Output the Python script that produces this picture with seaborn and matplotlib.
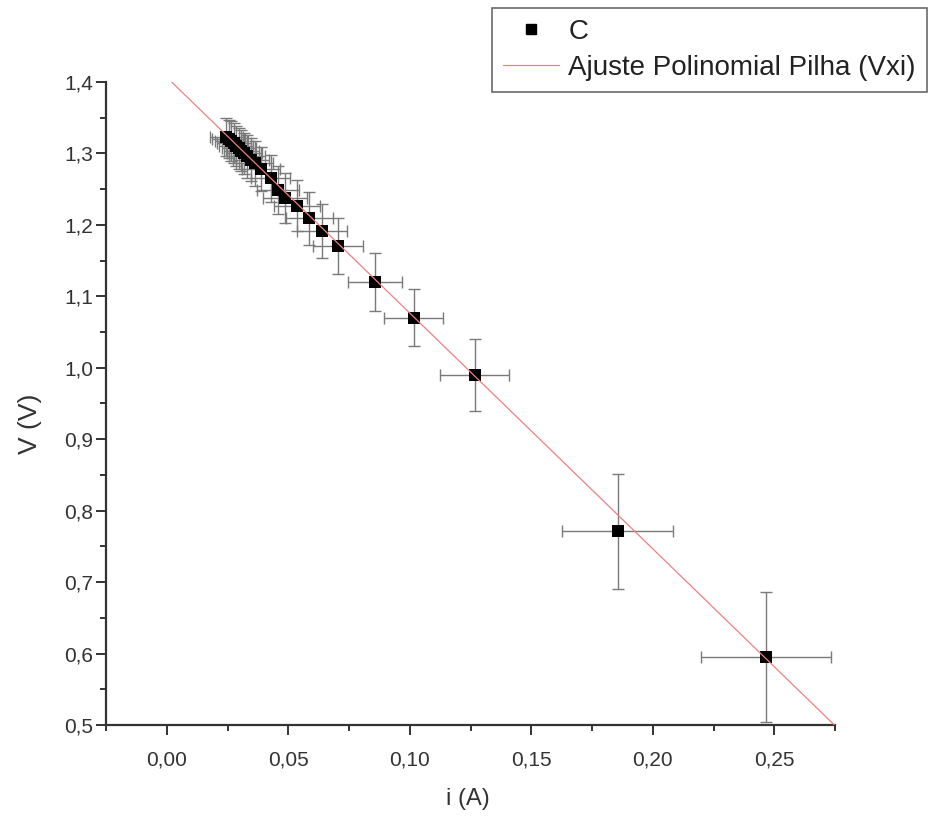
import matplotlib
matplotlib.use("Agg")
import matplotlib.pyplot as plt
import matplotlib.ticker as mticker
from matplotlib.lines import Line2D
import seaborn as sns
import numpy as np
import pandas as pd

# ---- data ----
current_A = [0.0245, 0.0256, 0.0266, 0.0276, 0.0286, 0.0296, 0.0307, 0.0319,
             0.0331, 0.0346, 0.0363, 0.0386, 0.0427, 0.0458, 0.0486, 0.0536,
             0.0587, 0.0637, 0.0705, 0.0856, 0.1016, 0.1267, 0.1856, 0.2465]
voltage_V = [1.323, 1.320, 1.317, 1.314, 1.311, 1.307, 1.304, 1.300,
             1.296, 1.291, 1.286, 1.278, 1.265, 1.249, 1.238, 1.227,
             1.209, 1.191, 1.170, 1.120, 1.070, 0.990, 0.771, 0.595]
current_err = [0.0068, 0.0068, 0.0069, 0.0069, 0.0070, 0.0070, 0.0071, 0.0072,
               0.0073, 0.0074, 0.0076, 0.0078, 0.0082, 0.0086, 0.0090, 0.0094,
               0.0098, 0.0103, 0.0103, 0.0112, 0.0121, 0.0142, 0.0228, 0.0267]
voltage_err = [0.027, 0.027, 0.028, 0.028, 0.028, 0.029, 0.029, 0.029,
               0.030, 0.030, 0.031, 0.031, 0.033, 0.034, 0.035, 0.036,
               0.037, 0.038, 0.039, 0.040, 0.040, 0.050, 0.080, 0.091]

fit_intercept = 1.4066
fit_slope = -3.30
fit_range = [0.0, 0.275]

series_label = "C"
fit_label = "Ajuste Polinomial Pilha (Vxi)"
x_label = "i (A)"
y_label = "V (V)"

df = pd.DataFrame({"i": current_A, "V": voltage_V,
                   "ierr": current_err, "verr": voltage_err})
fit_x = np.linspace(fit_range[0], fit_range[1], 50)
fit_df = pd.DataFrame({"i": fit_x, "V": fit_intercept + fit_slope * fit_x})

sns.set_theme(style="white")
plt.rcParams['font.family'] = ['Liberation Sans', 'DejaVu Sans']

fig = plt.figure(figsize=(9.32, 8.26), dpi=100)
ax = fig.add_axes([106/932, 1 - 725/826, (835 - 106)/932, (725 - 82)/826])

err_color = "#7a7a7a"
ax.errorbar(df["i"], df["V"], xerr=df["ierr"], yerr=df["verr"], fmt="none",
            ecolor=err_color, elinewidth=1.0, capsize=4, capthick=1.0, zorder=2)
sns.scatterplot(data=df, x="i", y="V", marker="s", s=65, color="black",
                edgecolor="black", linewidth=0, ax=ax, zorder=3, legend=False)
sns.lineplot(data=fit_df, x="i", y="V", color="#f08080", linewidth=0.9,
             ax=ax, zorder=4, legend=False)

ax.set_xlim(-0.025, 0.275)
ax.set_ylim(0.5, 1.4)

ax.xaxis.set_major_locator(mticker.MultipleLocator(0.05))
ax.xaxis.set_minor_locator(mticker.MultipleLocator(0.025))
ax.yaxis.set_major_locator(mticker.MultipleLocator(0.1))
ax.yaxis.set_minor_locator(mticker.MultipleLocator(0.05))

ax.xaxis.set_major_formatter(mticker.FuncFormatter(
    lambda v, p: "" if v < -1e-9 else f"{v:.2f}".replace(".", ",")))
ax.yaxis.set_major_formatter(mticker.FuncFormatter(
    lambda v, p: f"{v:.1f}".replace(".", ",")))

for side in ["top", "right"]:
    ax.spines[side].set_visible(False)
for side in ["left", "bottom"]:
    ax.spines[side].set_color("#333333")
    ax.spines[side].set_linewidth(1.6)

ax.tick_params(which="major", direction="out", length=7, width=1.4,
               color="#333333", labelsize=15, labelcolor="#333333",
               bottom=True, left=True)
ax.tick_params(which="minor", direction="out", length=4, width=1.4,
               color="#333333", bottom=True, left=True)
ax.tick_params(axis="y", which="major", pad=2)
ax.tick_params(axis="x", which="major", pad=11)

ax.set_xlabel(x_label, fontsize=17, color="#333333")
ax.set_ylabel(y_label, fontsize=19, color="#333333")
ax.xaxis.set_label_coords(0.497, -0.098)
ax.yaxis.set_label_coords(-0.088, 0.468)

handles = [Line2D([], [], marker="s", linestyle="none", color="black",
                  markersize=7),
           Line2D([], [], color="#f08080", linewidth=0.9)]
leg = fig.legend(handles, [series_label, fit_label],
                 loc="upper right", bbox_to_anchor=(927/932, 1 - 8/826),
                 fontsize=20, frameon=True, fancybox=False,
                 edgecolor="#444444", handlelength=2.0, borderpad=0.4,
                 labelspacing=0.35, handletextpad=0.35, borderaxespad=0)
leg.get_frame().set_linewidth(1.2)
for t in leg.get_texts():
    t.set_color("#222222")

fig.savefig("out.png", dpi=100, facecolor="white")
